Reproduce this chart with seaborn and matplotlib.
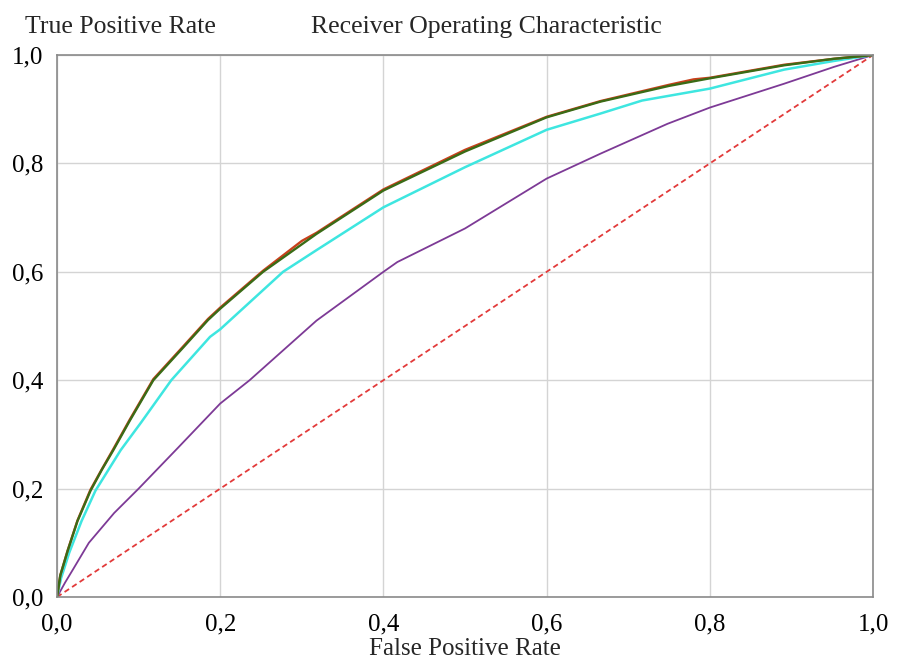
import seaborn as sns
import matplotlib.pyplot as plt
import pandas as pd

# ROC points (false positive rate, true positive rate)
green_fpr = [0, 0.004, 0.013, 0.025, 0.041, 0.055, 0.069, 0.089, 0.118, 0.155, 0.185,
             0.2, 0.2525, 0.318, 0.4, 0.5, 0.6, 0.666, 0.75, 0.8, 0.891, 0.952, 1.0]
green_tpr = [0, 0.04, 0.085, 0.14, 0.196, 0.235, 0.271, 0.325, 0.4, 0.461, 0.511,
             0.532, 0.6, 0.670, 0.750, 0.822, 0.885, 0.914, 0.943, 0.957, 0.981, 0.993, 1.0]

red_fpr = [0, 0.004, 0.013, 0.025, 0.041, 0.055, 0.069, 0.089, 0.118, 0.155, 0.185,
           0.2, 0.2525, 0.3, 0.318, 0.4, 0.5, 0.6, 0.666, 0.75, 0.78, 0.8, 0.891, 0.952, 1.0]
red_tpr = [0, 0.04, 0.086, 0.141, 0.198, 0.236, 0.273, 0.327, 0.402, 0.463, 0.513,
           0.534, 0.602, 0.657, 0.672, 0.752, 0.825, 0.886, 0.915, 0.945, 0.955, 0.958, 0.982, 0.993, 1.0]

cyan_fpr = [0, 0.005, 0.015, 0.03, 0.047, 0.078, 0.103, 0.14, 0.1875, 0.2, 0.277,
            0.318, 0.4, 0.5, 0.6, 0.666, 0.717, 0.8, 0.891, 0.952, 1.0]
cyan_tpr = [0, 0.035, 0.082, 0.14, 0.196, 0.271, 0.322, 0.4, 0.48, 0.494, 0.6,
            0.64, 0.719, 0.793, 0.862, 0.892, 0.916, 0.938, 0.973, 0.989, 1.0]

purple_fpr = [0, 0.01, 0.02, 0.039, 0.07, 0.10, 0.148, 0.2, 0.236, 0.318, 0.4, 0.417,
              0.5, 0.6, 0.666, 0.748, 0.8, 0.891, 0.952, 1.0]
purple_tpr = [0, 0.027, 0.052, 0.10, 0.155, 0.2, 0.275, 0.357, 0.4, 0.51, 0.60, 0.618,
              0.68, 0.772, 0.818, 0.873, 0.903, 0.947, 0.978, 1.0]

chance_fpr = [0, 1]
chance_tpr = [0, 1]

ticks = [0, 0.2, 0.4, 0.6, 0.8, 1.0]
tick_labels = ["0,0", "0,2", "0,4", "0,6", "0,8", "1,0"]

sns.set_theme(style="whitegrid")
plt.rcParams['font.family'] = ['Liberation Serif', 'DejaVu Serif']

fig = plt.figure(figsize=(9.01, 6.61), dpi=100)
ax = fig.add_axes([0.0633, 0.0968, 0.9057, 0.82])

def curve(fpr, tpr, name):
    return pd.DataFrame({'fpr': fpr, 'tpr': tpr, 'model': name})

# Diagonal first so it sits under the curves
sns.lineplot(data=curve(chance_fpr, chance_tpr, 'chance'), x='fpr', y='tpr',
             color='#e23a3a', linewidth=1.3, linestyle=(0, (3, 2)), ax=ax)
sns.lineplot(data=curve(purple_fpr, purple_tpr, 'purple'), x='fpr', y='tpr',
             color='#7d3a96', linewidth=1.3, sort=False, estimator=None, ax=ax)
sns.lineplot(data=curve(cyan_fpr, cyan_tpr, 'cyan'), x='fpr', y='tpr',
             color='#3ee6e0', linewidth=1.8, sort=False, estimator=None, ax=ax)
sns.lineplot(data=curve(red_fpr, red_tpr, 'red'), x='fpr', y='tpr',
             color='#c8401c', linewidth=1.7, sort=False, estimator=None, ax=ax)
sns.lineplot(data=curve(green_fpr, green_tpr, 'green'), x='fpr', y='tpr',
             color='#3a6b16', linewidth=1.7, sort=False, estimator=None, ax=ax)

ax.set_xlim(0, 1)
ax.set_ylim(0, 1)
ax.set_xticks(ticks)
ax.set_yticks(ticks)
ax.set_xticklabels(tick_labels, fontsize=18)
ax.set_yticklabels(tick_labels, fontsize=18)
ax.tick_params(axis='both', length=3, width=1, color='#9a9a9a', colors='black', pad=7)
ax.tick_params(axis='x', pad=9)
ax.grid(True, color='#d4d4d4', linewidth=1)
for s in ax.spines.values():
    s.set_color('#8a8a8a')
    s.set_linewidth(1.2)

ax.set_xlabel('False Positive Rate', fontsize=18, labelpad=2)
ax.set_ylabel('')

fig.text(25 / 901, 1 - 27 / 661, 'True Positive Rate', fontsize=18.5,
         ha='left', va='center')
fig.text(486 / 901, 1 - 27 / 661, 'Receiver Operating Characteristic', fontsize=18.5,
         ha='center', va='center')

fig.savefig('out.png', dpi=100)
